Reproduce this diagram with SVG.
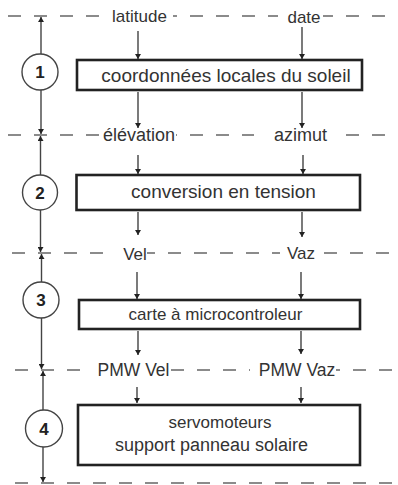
<svg xmlns="http://www.w3.org/2000/svg" width="398" height="485" viewBox="0 0 398 485">
  <style>
    .bg { fill: #ffffff; }
    .level { stroke: #666; stroke-width: 1.5; stroke-dasharray: 13 13; fill: none; }
    .box { fill: #ffffff; stroke: #222; stroke-width: 2.6; }
    .flow { stroke: #333; stroke-width: 1.3; fill: none; marker-end: url(#tip); }
    .dim { stroke: #444; stroke-width: 1.4; fill: none; marker-end: url(#tip); }
    .num { fill: #ffffff; stroke: #444; stroke-width: 1.4; }
    .lbl { font-family: "Liberation Sans", Arial, sans-serif; fill: #333; text-anchor: middle; }
    .numt { font-family: "Liberation Sans", Arial, sans-serif; font-weight: bold; font-size: 17px; fill: #222; text-anchor: middle; }
    .pad { fill: #ffffff; }
  </style>
  <defs>
    <marker id="tip" viewBox="0 0 10 10" refX="10" refY="5" markerWidth="5" markerHeight="6" markerUnits="userSpaceOnUse" orient="auto" preserveAspectRatio="none">
      <path d="M0,0 L10,5 L0,10 z" fill="#222"/>
    </marker>
  </defs>

  <rect class="bg" x="0" y="0" width="398" height="485"/>

  <!-- level lines separating the stages -->
  <g id="levels">
    <line class="level" x1="8" y1="16" x2="396" y2="16"/>
    <line class="level" x1="8" y1="135" x2="386" y2="135"/>
    <line class="level" x1="12" y1="253" x2="390" y2="253"/>
    <line class="level" x1="15" y1="370" x2="398" y2="370"/>
    <line class="level" x1="15" y1="483" x2="398" y2="483"/>
  </g>

  <!-- signal labels sitting on the level lines -->
  <g id="signals">
    <rect class="pad" x="106" y="6" width="67" height="20"/>
    <text class="lbl" x="139.5" y="22" font-size="17">latitude</text>
    <rect class="pad" x="278" y="6" width="45" height="20"/>
    <text class="lbl" x="304" y="23" font-size="17">date</text>
    <rect class="pad" x="104" y="125" width="72" height="20"/>
    <text class="lbl" x="139" y="141" font-size="18">élévation</text>
    <rect class="pad" x="254" y="125" width="86" height="20"/>
    <text class="lbl" x="300.5" y="141" font-size="18">azimut</text>
    <rect class="pad" x="116" y="243" width="31" height="20"/>
    <text class="lbl" x="135" y="260" font-size="17">Vel</text>
    <rect class="pad" x="280" y="243" width="36" height="20"/>
    <text class="lbl" x="301" y="259" font-size="17">Vaz</text>
    <rect class="pad" x="90" y="360" width="80" height="20"/>
    <text class="lbl" x="133.5" y="376" font-size="17.5">PMW Vel</text>
    <rect class="pad" x="250" y="360" width="86" height="20"/>
    <text class="lbl" x="297" y="376" font-size="17.5">PMW Vaz</text>
  </g>

  <!-- signal flow arrows -->
  <g id="connectors">
    <line class="flow" x1="138" y1="31" x2="138" y2="59"/>
    <line class="flow" x1="302" y1="27" x2="302" y2="59"/>
    <line class="flow" x1="138" y1="92" x2="138" y2="128"/>
    <line class="flow" x1="302" y1="92" x2="302" y2="128"/>
    <line class="flow" x1="138" y1="155" x2="138" y2="174"/>
    <line class="flow" x1="303" y1="155" x2="303" y2="174"/>
    <line class="flow" x1="138" y1="212" x2="138" y2="235"/>
    <line class="flow" x1="302" y1="212" x2="302" y2="237"/>
    <line class="flow" x1="137" y1="272" x2="137" y2="299"/>
    <line class="flow" x1="301" y1="272" x2="301" y2="299"/>
    <line class="flow" x1="138" y1="331" x2="138" y2="355"/>
    <line class="flow" x1="301" y1="331" x2="301" y2="354"/>
    <line class="flow" x1="137" y1="387" x2="137" y2="403"/>
    <line class="flow" x1="301" y1="387" x2="301" y2="403"/>

    <!-- stage extent dimension lines -->
    <line class="dim" x1="41" y1="54" x2="41" y2="17"/>
    <line class="dim" x1="41" y1="90" x2="41" y2="134"/>
    <line class="dim" x1="40.5" y1="175" x2="40.5" y2="136"/>
    <line class="dim" x1="40.5" y1="210" x2="40.5" y2="252"/>
    <line class="dim" x1="41.5" y1="282" x2="41.5" y2="254"/>
    <line class="dim" x1="41.5" y1="318" x2="41.5" y2="369"/>
    <line class="dim" x1="43" y1="410" x2="43" y2="371"/>
    <line class="dim" x1="43" y1="447" x2="43" y2="482"/>
  </g>

  <g id="stage-1">
    <circle class="num" cx="40" cy="72" r="18"/>
    <text class="numt" x="40" y="78">1</text>
  </g>
  <g id="stage-2">
    <circle class="num" cx="40" cy="192.5" r="17.5"/>
    <text class="numt" x="40" y="198.5">2</text>
  </g>
  <g id="stage-3">
    <circle class="num" cx="41" cy="300" r="18"/>
    <text class="numt" x="41" y="306">3</text>
  </g>
  <g id="stage-4">
    <circle class="num" cx="44" cy="428.5" r="18.5"/>
    <text class="numt" x="44" y="434.5">4</text>
  </g>

  <g id="box-coordonnees">
    <rect class="box" x="77" y="60" width="285" height="30"/>
    <text class="lbl" x="226" y="82" font-size="19">coordonnées locales du soleil</text>
  </g>
  <g id="box-conversion">
    <rect class="box" x="76.5" y="175" width="283.5" height="35"/>
    <text class="lbl" x="223.5" y="198" font-size="19">conversion en tension</text>
  </g>
  <g id="box-carte">
    <rect class="box" x="79" y="300" width="281" height="29"/>
    <text class="lbl" x="215.5" y="320" font-size="17">carte à microcontroleur</text>
  </g>
  <g id="box-servomoteurs">
    <rect class="box" x="78" y="405" width="282" height="60"/>
    <text class="lbl" x="220" y="428" font-size="17">servomoteurs</text>
    <text class="lbl" x="211.5" y="451" font-size="18">support panneau solaire</text>
  </g>
</svg>
